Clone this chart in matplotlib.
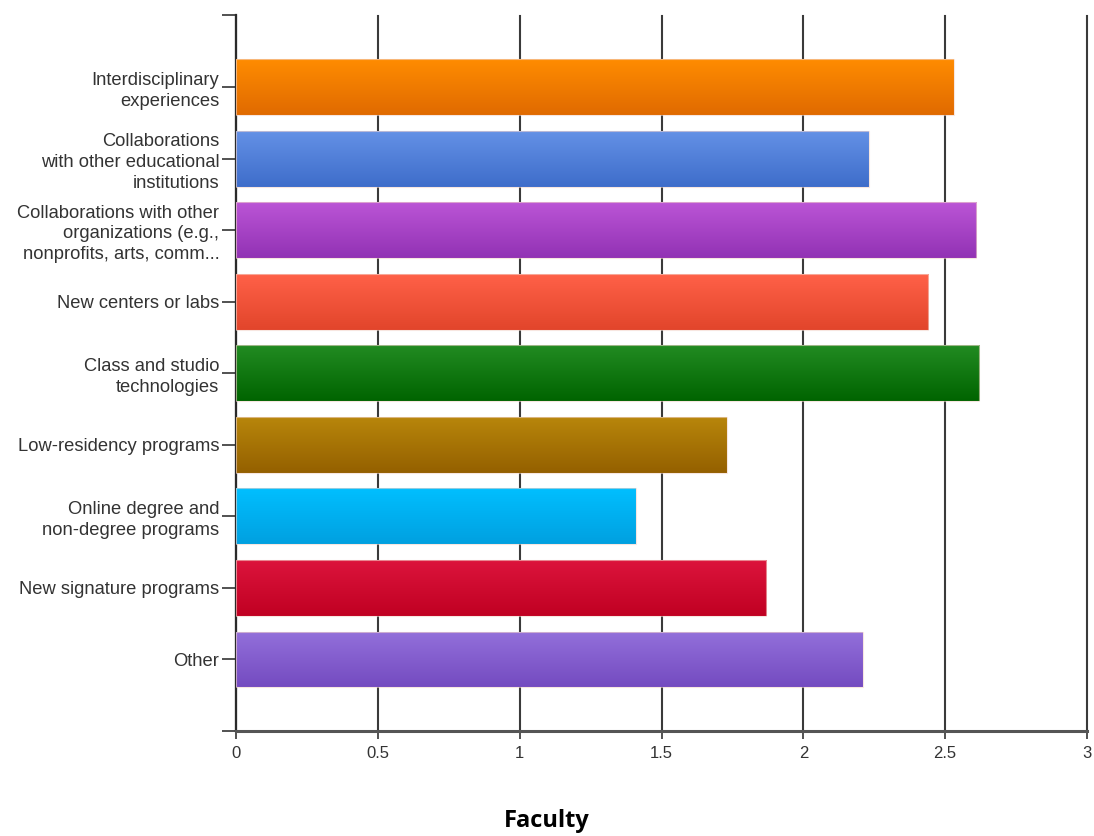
import numpy as np
import matplotlib
matplotlib.use("Agg")
import matplotlib.pyplot as plt
from matplotlib.colors import LinearSegmentedColormap

categories = [
    "Interdisciplinary\nexperiences",
    "Collaborations\nwith other educational\ninstitutions",
    "Collaborations with other\norganizations (e.g.,\nnonprofits, arts, comm...",
    "New centers or labs",
    "Class and studio\ntechnologies",
    "Low-residency programs",
    "Online degree and\nnon-degree programs",
    "New signature programs",
    "Other",
]
values = [2.53, 2.23, 2.61, 2.44, 2.62, 1.73, 1.41, 1.87, 2.21]
top_colors = ["#ff8c00", "#6491e6", "#bb55d6", "#ff6148", "#228b22",
              "#b8860b", "#00bfff", "#dc143c", "#9370db"]
bottom_colors = ["#e06a00", "#3e6dca", "#9232b4", "#e2452b", "#006400",
                 "#946000", "#00a0e0", "#c00022", "#744bc0"]
x_ticks = [0, 0.5, 1, 1.5, 2, 2.5, 3]
x_tick_labels = ["0", "0.5", "1", "1.5", "2", "2.5", "3"]
title = "Faculty"

fig = plt.figure(figsize=(10.94, 8.36), dpi=100)
ax = fig.add_axes([236 / 1094, 1 - 731 / 836, (1087 - 236) / 1094, (731 - 15.5) / 836])

pos = np.arange(len(categories))
bars = ax.barh(pos, values, height=0.78, color="none", edgecolor="none", zorder=3)

# vertical gradient fill for each bar, clipped to the bar rectangle
grad = np.linspace(0, 1, 256).reshape(-1, 1)
for bar, c0, c1 in zip(bars, top_colors, bottom_colors):
    cmap = LinearSegmentedColormap.from_list("g", [c0, c1])
    x0, y0 = bar.get_x(), bar.get_y()
    w, h = bar.get_width(), bar.get_height()
    im = ax.imshow(grad, cmap=cmap, aspect="auto", origin="upper",
                   extent=[x0, x0 + w, y0 + h, y0], zorder=3, interpolation="bilinear")
    im.set_clip_path(bar)
    ax.add_patch(plt.Rectangle((x0, y0), w, h, fill=False, edgecolor="#f3d6cc",
                               linewidth=0.8, alpha=0.6, zorder=4))

ax.set_xlim(0, 3)
ax.set_ylim(len(categories), -1)

ax.set_xticks(x_ticks)
ax.set_xticklabels(x_tick_labels)
ax.grid(axis="x", color="#3a3a3a", linewidth=1.5, zorder=1)
ax.set_axisbelow(True)
for gl in ax.get_xgridlines():
    gl.set_clip_on(False)

ax.set_yticks(list(pos) + [-1, len(categories)])
ax.set_yticklabels(categories + ["", ""])

for s in ["top", "right"]:
    ax.spines[s].set_visible(False)
ax.spines["left"].set_color("#2a2a2a")
ax.spines["left"].set_linewidth(1.6)
ax.spines["bottom"].set_color("#555555")
ax.spines["bottom"].set_linewidth(2.2)

ax.tick_params(axis="y", length=10, width=1.2, color="#333333", pad=2,
               labelsize=13.2, labelcolor="#333333")
ax.tick_params(axis="x", length=6, width=1.2, color="#333333", pad=5,
               labelsize=12, labelcolor="#333333")
for lbl in ax.get_yticklabels() + ax.get_xticklabels():
    lbl.set_fontfamily("Liberation Sans")
for lbl in ax.get_yticklabels():
    lbl.set_linespacing(1.28)

fig.text(0.5, 1 - 821 / 836, title, ha="center", va="center",
         fontsize=17, fontweight="bold", family="Open Sans", color="black")

fig.savefig("out.png", dpi=100, facecolor="white")
